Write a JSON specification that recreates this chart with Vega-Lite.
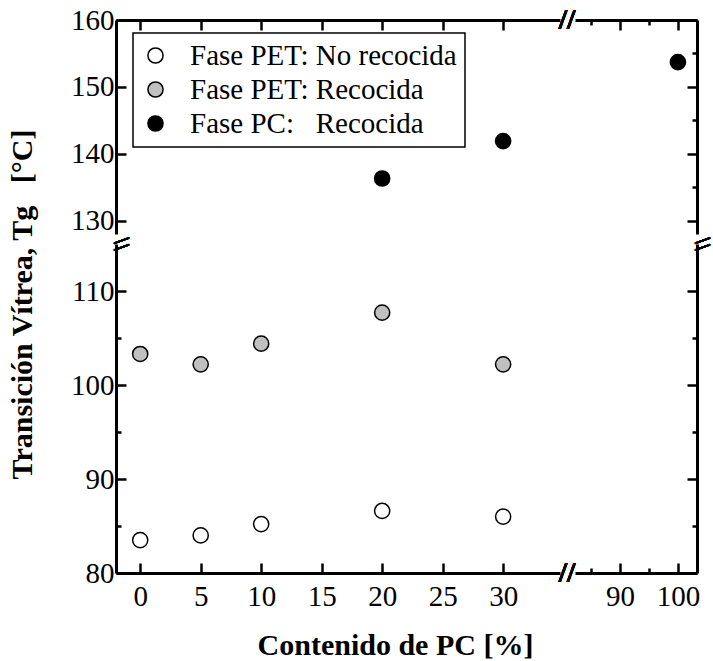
{
  "$schema": "https://vega.github.io/schema/vega-lite/v6.json",
  "padding": {"left": 7, "top": 5, "right": 0, "bottom": 5},
  "config": {
    "font": "Liberation Serif",
    "view": {"stroke": null},
    "axis": {
      "domainColor": "black", "domainWidth": 3, "tickColor": "black", "tickWidth": 2.5,
      "labelFont": "Liberation Serif", "labelFontSize": 29, "labelColor": "black",
      "labelOverlap": false, "labelFlush": false, "grid": false,
      "titleFont": "Liberation Serif", "titleFontSize": 30, "titleFontWeight": "bold", "titleColor": "black"
    },
    "legend": {"strokeWidth": 1.5}
  },
  "datasets": {
    "tg": [
      {"pc": 0, "tg": 83.5, "fase": "Fase PET: No recocida"},
      {"pc": 5, "tg": 84.0, "fase": "Fase PET: No recocida"},
      {"pc": 10, "tg": 85.2, "fase": "Fase PET: No recocida"},
      {"pc": 20, "tg": 86.6, "fase": "Fase PET: No recocida"},
      {"pc": 30, "tg": 86.0, "fase": "Fase PET: No recocida"},
      {"pc": 0, "tg": 103.3, "fase": "Fase PET: Recocida"},
      {"pc": 5, "tg": 102.2, "fase": "Fase PET: Recocida"},
      {"pc": 10, "tg": 104.4, "fase": "Fase PET: Recocida"},
      {"pc": 20, "tg": 107.7, "fase": "Fase PET: Recocida"},
      {"pc": 30, "tg": 102.2, "fase": "Fase PET: Recocida"},
      {"pc": 20, "tg": 136.3, "fase": "Fase PC:\u00a0\u00a0\u00a0Recocida"},
      {"pc": 30, "tg": 141.9, "fase": "Fase PC:\u00a0\u00a0\u00a0Recocida"},
      {"pc": 100, "tg": 153.7, "fase": "Fase PC:\u00a0\u00a0\u00a0Recocida"}
    ]
  },
  "bounds": "flush",
  "columns": 2,
  "spacing": {"row": 10, "column": 15},
  "resolve": {"scale": {"fill": "shared"}},
  "concat": [
    {
      "width": 444, "height": 214,
      "data": {"name": "tg"},
      "layer": [
        {
          "mark": {"type": "point", "shape": "circle", "filled": true, "stroke": "black", "strokeWidth": 1.5, "size": 230, "opacity": 1, "clip": true},
          "encoding": {
            "x": {"field": "pc", "type": "quantitative", "scale": {"domain": [-2, 34.7], "nice": false, "zero": false},
                  "axis": {"orient": "top", "values": [0,2.5,5,7.5,10,12.5,15,17.5,20,22.5,25,27.5,30,32.5], "labels": false, "title": null,
                           "tickSize": {"condition": {"test": "datum.value % 5 != 0", "value": -5}, "value": -10}}},
            "y": {"field": "tg", "type": "quantitative", "scale": {"domain": [128, 160], "nice": false, "zero": false},
                  "axis": {"orient": "left", "values": [130,135,140,145,150,155,160], "title": null,
                           "labelExpr": "datum.value % 10 == 0 ? datum.label : ''", "labelPadding": 12,
                           "tickSize": {"condition": {"test": "datum.value % 10 != 0", "value": -5}, "value": -10}}},
            "fill": {"field": "fase", "type": "nominal",
                     "scale": {"domain": ["Fase PET: No recocida", "Fase PET: Recocida", "Fase PC:\u00a0\u00a0\u00a0Recocida"], "range": ["white", "#c0c0c0", "black"]},
                     "legend": {"orient": "none", "legendX": 17, "legendY": 13, "title": null, "symbolType": "circle", "symbolSize": 230,
                                "symbolStrokeColor": "black", "symbolStrokeWidth": 1.5, "labelFontSize": 29, "labelFont": "Liberation Serif",
                                "labelColor": "black", "labelLimit": 400, "padding": 8, "strokeColor": "black", "fillColor": "white",
                                "rowPadding": 4, "labelOffset": 20, "symbolOffset": 0}}
          }
        },
        {
          "mark": {"type": "text", "text": "//", "fontSize": 30, "fontWeight": "bold", "align": "center", "baseline": "middle", "dx": 7},
          "encoding": {"x": {"datum": 34.7, "type": "quantitative"}, "y": {"datum": 160, "type": "quantitative"}}
        }
      ]
    },
    {
      "width": 122, "height": 214,
      "data": {"name": "tg"},
      "mark": {"type": "point", "shape": "circle", "filled": true, "stroke": "black", "strokeWidth": 1.5, "size": 230, "opacity": 1, "clip": true},
      "encoding": {
        "x": {"field": "pc", "type": "quantitative", "scale": {"domain": [82.2, 103.3], "nice": false, "zero": false},
              "axis": {"orient": "top", "values": [85,90,95,100], "labels": false, "title": null,
                       "tickSize": {"condition": {"test": "datum.value % 10 != 0", "value": -5}, "value": -10}}},
        "y": {"field": "tg", "type": "quantitative", "scale": {"domain": [128, 160], "nice": false, "zero": false},
              "axis": {"orient": "right", "values": [130,135,140,145,150,155,160], "labels": false, "title": null,
                       "tickSize": {"condition": {"test": "datum.value % 10 != 0", "value": -5}, "value": -10}}},
        "fill": {"field": "fase", "type": "nominal",
                 "scale": {"domain": ["Fase PET: No recocida", "Fase PET: Recocida", "Fase PC:\u00a0\u00a0\u00a0Recocida"], "range": ["white", "#c0c0c0", "black"]}}
      }
    },
    {
      "width": 444, "height": 329,
      "data": {"name": "tg"},
      "layer": [
        {
          "mark": {"type": "point", "shape": "circle", "filled": true, "stroke": "black", "strokeWidth": 1.5, "size": 230, "opacity": 1, "clip": true},
          "encoding": {
            "x": {"field": "pc", "type": "quantitative", "scale": {"domain": [-2, 34.7], "nice": false, "zero": false},
                  "axis": {"orient": "bottom", "values": [0,2.5,5,7.5,10,12.5,15,17.5,20,22.5,25,27.5,30,32.5],
                           "labelExpr": "datum.value % 5 == 0 ? datum.label : ''", "labelPadding": 19,
                           "title": "Contenido de PC [%]", "titleX": 279, "titlePadding": 19,
                           "tickSize": {"condition": {"test": "datum.value % 5 != 0", "value": -5}, "value": -10}}},
            "y": {"field": "tg", "type": "quantitative", "scale": {"domain": [80, 115], "nice": false, "zero": false},
                  "axis": {"orient": "left", "values": [80,85,90,95,100,105,110],
                           "labelExpr": "datum.value % 10 == 0 ? datum.label : ''", "labelPadding": 12,
                           "title": "Transición Vítrea, Tg\u00a0\u00a0\u00a0[°C]", "titleY": 60, "titlePadding": 33,
                           "tickSize": {"condition": {"test": "datum.value % 10 != 0", "value": -5}, "value": -10}}},
            "fill": {"field": "fase", "type": "nominal",
                     "scale": {"domain": ["Fase PET: No recocida", "Fase PET: Recocida", "Fase PC:\u00a0\u00a0\u00a0Recocida"], "range": ["white", "#c0c0c0", "black"]}}
          }
        },
        {
          "mark": {"type": "text", "text": "//", "fontSize": 30, "fontWeight": "bold", "align": "center", "baseline": "middle", "dx": 7},
          "encoding": {"x": {"datum": 34.7, "type": "quantitative"}, "y": {"datum": 80, "type": "quantitative"}}
        },
        {
          "mark": {"type": "text", "text": "\\\\", "fontSize": 24, "fontWeight": "bold", "align": "center", "baseline": "middle", "angle": 90, "dy": -5},
          "encoding": {"x": {"datum": -2, "type": "quantitative"}, "y": {"datum": 115, "type": "quantitative"}}
        }
      ]
    },
    {
      "width": 122, "height": 329,
      "data": {"name": "tg"},
      "layer": [
        {
          "mark": {"type": "point", "shape": "circle", "filled": true, "stroke": "black", "strokeWidth": 1.5, "size": 230, "opacity": 1, "clip": true},
          "encoding": {
            "x": {"field": "pc", "type": "quantitative", "scale": {"domain": [82.2, 103.3], "nice": false, "zero": false},
                  "axis": {"orient": "bottom", "values": [85,90,95,100],
                           "labelExpr": "datum.value % 10 == 0 ? datum.label : ''", "labelPadding": 19, "title": null,
                           "tickSize": {"condition": {"test": "datum.value % 10 != 0", "value": -5}, "value": -10}}},
            "y": {"field": "tg", "type": "quantitative", "scale": {"domain": [80, 115], "nice": false, "zero": false},
                  "axis": {"orient": "right", "values": [80,85,90,95,100,105,110], "labels": false, "title": null,
                           "tickSize": {"condition": {"test": "datum.value % 10 != 0", "value": -5}, "value": -10}}},
            "fill": {"field": "fase", "type": "nominal",
                     "scale": {"domain": ["Fase PET: No recocida", "Fase PET: Recocida", "Fase PC:\u00a0\u00a0\u00a0Recocida"], "range": ["white", "#c0c0c0", "black"]}}
          }
        },
        {
          "mark": {"type": "text", "text": "\\\\", "fontSize": 24, "fontWeight": "bold", "align": "center", "baseline": "middle", "angle": 90, "dy": -5},
          "encoding": {"x": {"datum": 103.3, "type": "quantitative"}, "y": {"datum": 115, "type": "quantitative"}}
        }
      ]
    }
  ]
}
